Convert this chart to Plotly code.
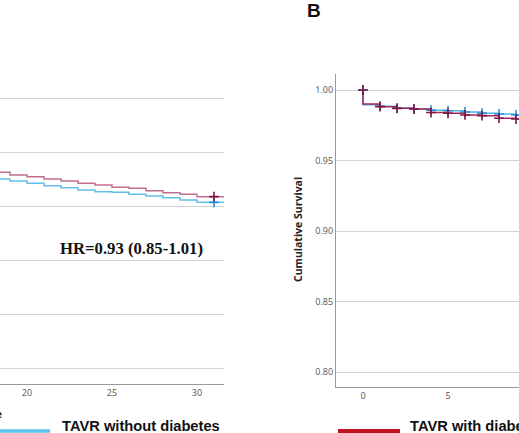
import plotly.graph_objects as go

W, H = 519, 433

# ---------------- Panel A (visible right-hand part) ----------------
a_times = [18, 19, 20, 21, 22, 23, 24, 25, 26, 27, 28, 29, 30, 32]
a_with = [0.8642, 0.8593, 0.8562, 0.8519, 0.8481, 0.8438, 0.8407, 0.8364,
          0.8346, 0.8302, 0.8265, 0.8235, 0.8191, 0.8191]
a_without = [0.8519, 0.8481, 0.8438, 0.8395, 0.8358, 0.8315, 0.8284, 0.8272,
             0.8235, 0.8204, 0.8173, 0.8130, 0.8086, 0.8086]
a_censor_t = [31]
a_censor_with = [0.8191]
a_censor_without = [0.8086]
a_xticks = [20, 25, 30]
a_yticks = [0.5, 0.6, 0.7, 0.8, 0.9, 1.0]
hr_text = "HR=0.93 (0.85-1.01)"

# ---------------- Panel B (visible left-hand part) ----------------
b_times = [0, 0, 1, 2, 3, 4, 5, 6, 7, 8, 9, 10]
b_with = [1.0, 0.9900, 0.9882, 0.9870, 0.9865, 0.9840, 0.9835, 0.9823,
          0.9818, 0.9800, 0.9794, 0.9794]
b_without = [1.0, 0.9895, 0.9885, 0.9872, 0.9866, 0.9857, 0.9853, 0.9844,
             0.9836, 0.9830, 0.9823, 0.9823]
b_censor_t = [0, 1, 2, 3, 4, 5, 6, 7, 8, 9]
b_censor_with = [1.0, 0.9882, 0.9870, 0.9865, 0.9840, 0.9835, 0.9823,
                 0.9818, 0.9800, 0.9794]
b_censor_without = [1.0, 0.9885, 0.9872, 0.9866, 0.9857, 0.9853, 0.9844,
                    0.9836, 0.9830, 0.9823]
b_xticks = [0, 5, 10]
b_yticks = [0.80, 0.85, 0.90, 0.95, 1.00]

legend_labels = ["TAVR without diabetes", "TAVR with diabetes"]


def px_x(p):
    return p / W


def px_y(p):
    return 1 - p / H


A_PINK = "#c26e8f"
A_BLUE = "#62bde9"
B_PINK = "#a4285c"
B_BLUE = "#4fb4e6"
MK_PINK = "#7e1744"
MK_BLUE = "#2a92d6"

fig = go.Figure()

mk = dict(symbol="cross-thin", size=7)

# Panel A curves
fig.add_trace(go.Scatter(x=a_times, y=a_without, mode="lines", line=dict(color=A_BLUE, width=1.5, shape="hv"),
                         xaxis="x", yaxis="y", showlegend=False, hoverinfo="skip"))
fig.add_trace(go.Scatter(x=a_times, y=a_with, mode="lines", line=dict(color=A_PINK, width=1.5, shape="hv"),
                         xaxis="x", yaxis="y", showlegend=False, hoverinfo="skip"))
fig.add_trace(go.Scatter(x=a_censor_t, y=a_censor_without, mode="markers",
                         marker=dict(**mk, line=dict(color=MK_BLUE, width=1.6)),
                         xaxis="x", yaxis="y", showlegend=False, hoverinfo="skip"))
fig.add_trace(go.Scatter(x=a_censor_t, y=a_censor_with, mode="markers",
                         marker=dict(**mk, line=dict(color=MK_PINK, width=1.6)),
                         xaxis="x", yaxis="y", showlegend=False, hoverinfo="skip"))

# Panel B curves
fig.add_trace(go.Scatter(x=b_times, y=b_without, mode="lines", line=dict(color=B_BLUE, width=1.5, shape="hv"),
                         xaxis="x2", yaxis="y2", showlegend=False, hoverinfo="skip"))
fig.add_trace(go.Scatter(x=b_censor_t, y=b_censor_without, mode="markers",
                         marker=dict(**mk, line=dict(color=MK_BLUE, width=1.6)),
                         xaxis="x2", yaxis="y2", showlegend=False, hoverinfo="skip"))
fig.add_trace(go.Scatter(x=b_times, y=b_with, mode="lines", line=dict(color=B_PINK, width=1.5, shape="hv"),
                         xaxis="x2", yaxis="y2", showlegend=False, hoverinfo="skip"))
fig.add_trace(go.Scatter(x=b_censor_t, y=b_censor_with, mode="markers",
                         marker=dict(**mk, line=dict(color=MK_PINK, width=1.6)),
                         xaxis="x2", yaxis="y2", showlegend=False, hoverinfo="skip"))

tickfont = dict(family="Open Sans", size=9, color="#555555")
GRID = "#d2d2d2"
AXL = "#9a9a9a"

fig.update_layout(
    width=W, height=H, autosize=False,
    margin=dict(l=0, r=0, t=0, b=0, pad=0, autoexpand=False),
    paper_bgcolor="white", plot_bgcolor="white",
    showlegend=False,
    xaxis=dict(domain=[0, px_x(224)], range=[18.412, 31.588], tickvals=a_xticks,
               showgrid=False, zeroline=False, showline=True, linecolor=AXL, linewidth=1.3,
               ticks="", tickfont=tickfont, automargin=False),
    yaxis=dict(domain=[px_y(384), px_y(83)], range=[0.4722, 1.0296], tickvals=a_yticks,
               showgrid=True, gridcolor=GRID, gridwidth=1.3, zeroline=False, showline=False,
               showticklabels=False, ticks="", automargin=False),
    xaxis2=dict(domain=[px_x(336), 1], range=[-1.588, 9.176], tickvals=b_xticks, anchor="y2",
                showgrid=False, zeroline=False, showline=True, linecolor=AXL, linewidth=1.3,
                ticks="", tickfont=tickfont, automargin=False),
    yaxis2=dict(domain=[px_y(387), px_y(74)], range=[0.7894, 1.01135], tickvals=b_yticks,
                tickformat=".2f", anchor="x2",
                showgrid=True, gridcolor=GRID, gridwidth=1.3, zeroline=False, showline=True,
                linecolor=AXL, linewidth=1.3, ticks="", tickfont=tickfont, automargin=False),
)

ann = []
ann.append(dict(text="<b>" + hr_text + "</b>", x=px_x(131.5), y=px_y(248), xref="paper", yref="paper",
                showarrow=False, xanchor="center", yanchor="middle",
                font=dict(family="Liberation Serif", size=16.7, color="#111111")))
ann.append(dict(text="<b>B</b>", x=px_x(314), y=px_y(10), xref="paper", yref="paper",
                showarrow=False, xanchor="center", yanchor="middle",
                font=dict(family="Liberation Sans", size=19, color="#111111")))
ann.append(dict(text="<b>Cumulative Survival</b>", x=px_x(298), y=px_y(230), xref="paper", yref="paper",
                showarrow=False, xanchor="center", yanchor="middle", textangle=-90,
                font=dict(family="Open Sans", size=10.5, color="#222222")))
ann.append(dict(text="<b>Time</b>", x=px_x(4.5), y=px_y(413), xref="paper", yref="paper",
                showarrow=False, xanchor="right", yanchor="middle",
                font=dict(family="Open Sans", size=11, color="#222222")))
ann.append(dict(text="<b>" + legend_labels[0] + "</b>", x=px_x(60), y=px_y(426), xref="paper", yref="paper",
                showarrow=False, xanchor="left", yanchor="middle",
                font=dict(family="Liberation Sans", size=14.7, color="#111111")))
ann.append(dict(text="<b>" + legend_labels[1] + "</b>", x=px_x(408), y=px_y(426), xref="paper", yref="paper",
                showarrow=False, xanchor="left", yanchor="middle",
                font=dict(family="Liberation Sans", size=14.7, color="#111111")))
fig.update_layout(annotations=ann)

fig.update_layout(shapes=[
    dict(type="line", xref="paper", yref="paper", x0=px_x(0), x1=px_x(50), y0=px_y(431), y1=px_y(431),
         line=dict(color="#5cc3ea", width=3.5)),
    dict(type="line", xref="paper", yref="paper", x0=px_x(338), x1=px_x(400), y0=px_y(431), y1=px_y(431),
         line=dict(color="#c0121f", width=4)),
])

fig.write_html("out.html", config={"displayModeBar": False},
               post_script="document.body.style.margin='0px';document.body.style.overflow='hidden';")
